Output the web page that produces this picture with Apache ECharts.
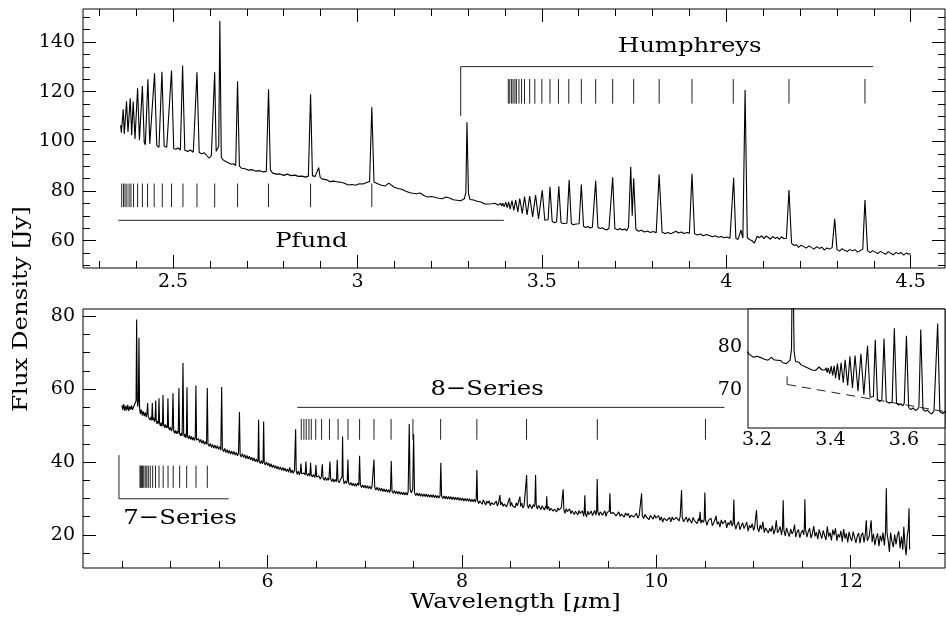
<!DOCTYPE html>
<html><head><meta charset="utf-8">
<script src="https://cdn.jsdelivr.net/npm/echarts@6/dist/echarts.min.js"></script>
<style>html,body{margin:0;padding:0;background:#fff}#c{width:946px;height:620px}</style>
</head><body><div id="c"></div>
<script>
// ---------------- DATA ----------------
// Upper panel spectrum (2.36 - 4.50 micron): [wavelength, flux Jy]
const topSpectrum = [
[2.358,106.5],[2.360,103.5],[2.362,104.0],[2.365,112.9],[2.368,103.0],[2.370,102.6],[2.374,116.1],[2.378,103.8],[2.380,103.5],[2.384,117.3],[2.388,102.5],[2.389,102.2],[2.392,116.0],[2.397,101.0],[2.399,100.6],[2.404,121.4],[2.409,100.5],[2.411,99.9],[2.417,122.3],[2.422,99.5],[2.425,98.6],[2.432,125.0],[2.437,99.0],[2.442,98.2],[2.450,127.4],[2.456,98.4],[2.462,97.6],[2.470,128.0],[2.476,98.0],[2.483,97.6],[2.488,98.3],[2.496,128.5],[2.502,97.0],[2.508,96.8],[2.514,97.4],[2.520,96.5],[2.526,130.5],[2.532,96.4],[2.540,95.9],[2.547,96.5],[2.555,95.6],[2.560,95.9],[2.565,127.8],[2.571,95.5],[2.578,95.0],[2.585,95.4],[2.592,94.2],[2.598,93.2],[2.604,94.3],[2.608,93.8],[2.613,127.8],[2.617,96.0],[2.621,96.5],[2.624,98.0],[2.627,148.5],[2.631,93.5],[2.636,92.5],[2.642,92.0],[2.650,91.4],[2.658,90.8],[2.664,91.0],[2.670,90.3],[2.675,124.2],[2.680,90.0],[2.686,89.2],[2.695,89.0],[2.705,88.4],[2.715,88.6],[2.725,88.0],[2.735,88.2],[2.745,87.7],[2.753,87.9],[2.759,121.0],[2.764,88.5],[2.770,87.2],[2.780,86.8],[2.790,86.9],[2.800,86.3],[2.810,86.8],[2.820,86.2],[2.830,86.4],[2.840,85.9],[2.850,86.0],[2.860,85.6],[2.867,86.0],[2.873,119.0],[2.878,86.2],[2.885,85.8],[2.890,86.0],[2.895,89.4],[2.899,85.5],[2.905,84.8],[2.915,84.6],[2.925,83.8],[2.935,84.0],[2.945,83.7],[2.955,83.5],[2.965,83.1],[2.975,82.4],[2.985,82.6],[2.995,82.3],[3.005,82.9],[3.015,82.8],[3.025,83.4],[3.033,83.8],[3.039,113.7],[3.045,83.6],[3.055,82.9],[3.065,82.3],[3.075,82.0],[3.085,83.2],[3.090,83.0],[3.100,81.5],[3.110,81.0],[3.120,80.7],[3.130,80.0],[3.140,79.4],[3.150,79.1],[3.160,78.9],[3.170,79.2],[3.180,78.2],[3.190,77.6],[3.200,77.8],[3.205,78.1],[3.210,77.5],[3.215,77.8],[3.220,77.1],[3.225,77.4],[3.230,76.9],[3.235,77.3],[3.240,77.6],[3.245,77.0],[3.250,77.2],[3.255,76.9],[3.260,76.5],[3.265,76.8],[3.270,76.3],[3.275,76.6],[3.280,76.1],[3.285,76.5],[3.290,76.9],[3.294,79.5],[3.297,107.7],[3.301,79.0],[3.305,76.6],[3.310,76.2],[3.315,76.4],[3.320,75.8],[3.325,75.9],[3.330,75.4],[3.335,75.6],[3.340,75.0],[3.345,74.8],[3.350,74.6],[3.355,74.8],[3.360,74.5],[3.365,74.9],[3.369,75.3],[3.373,75.1],[3.377,74.6],[3.382,74.3],[3.385,74.6],[3.388,75.1],[3.391,74.0],[3.394,75.1],[3.398,73.7],[3.402,75.5],[3.406,73.3],[3.410,75.6],[3.414,72.7],[3.419,76.1],[3.424,72.2],[3.429,76.3],[3.435,71.6],[3.440,77.0],[3.447,71.0],[3.453,77.8],[3.460,70.4],[3.467,78.0],[3.475,69.6],[3.483,78.4],[3.491,68.8],[3.494,68.9],[3.501,80.3],[3.508,68.2],[3.513,67.9],[3.517,68.4],[3.522,81.7],[3.528,67.8],[3.534,67.2],[3.540,67.6],[3.546,81.9],[3.552,67.2],[3.558,66.9],[3.563,67.3],[3.568,67.0],[3.574,84.4],[3.580,66.8],[3.586,66.4],[3.592,66.7],[3.597,66.2],[3.601,66.8],[3.607,82.6],[3.613,65.8],[3.619,65.3],[3.625,65.7],[3.631,65.1],[3.637,65.4],[3.641,65.9],[3.646,84.1],[3.652,65.4],[3.658,64.9],[3.664,65.2],[3.670,64.6],[3.676,64.3],[3.682,65.0],[3.686,65.4],[3.692,85.5],[3.698,64.8],[3.706,64.4],[3.712,64.9],[3.718,64.3],[3.724,64.7],[3.730,64.1],[3.735,65.5],[3.741,89.8],[3.745,70.0],[3.749,85.1],[3.755,64.6],[3.762,63.8],[3.770,64.2],[3.778,63.5],[3.786,63.9],[3.794,63.3],[3.802,63.7],[3.810,63.2],[3.818,86.6],[3.826,63.4],[3.834,62.9],[3.842,63.3],[3.850,62.8],[3.858,63.4],[3.864,63.8],[3.870,63.1],[3.878,63.5],[3.886,62.9],[3.894,63.3],[3.900,63.0],[3.907,86.9],[3.914,62.8],[3.922,62.3],[3.930,62.7],[3.938,62.0],[3.946,62.5],[3.954,62.1],[3.962,61.6],[3.970,62.0],[3.978,61.4],[3.986,61.7],[3.994,61.2],[4.002,61.5],[4.010,61.0],[4.015,61.4],[4.020,85.3],[4.026,61.0],[4.032,60.5],[4.040,64.3],[4.045,61.0],[4.051,120.7],[4.057,61.2],[4.063,60.5],[4.070,60.0],[4.076,59.0],[4.080,58.3],[4.084,61.8],[4.090,61.2],[4.096,62.0],[4.102,60.8],[4.108,61.9],[4.114,61.3],[4.120,60.6],[4.126,61.7],[4.132,60.9],[4.138,61.4],[4.144,60.5],[4.150,61.6],[4.156,60.9],[4.163,61.0],[4.170,80.4],[4.177,59.0],[4.183,58.1],[4.190,58.4],[4.196,57.3],[4.203,58.2],[4.210,57.6],[4.217,57.0],[4.224,57.9],[4.231,57.2],[4.238,56.6],[4.245,57.6],[4.252,56.9],[4.259,57.4],[4.266,56.2],[4.273,57.1],[4.280,56.6],[4.287,57.2],[4.294,68.8],[4.300,56.5],[4.307,55.8],[4.314,56.8],[4.321,56.1],[4.328,55.6],[4.335,56.5],[4.342,55.9],[4.349,56.4],[4.356,55.4],[4.363,56.0],[4.370,56.5],[4.376,76.4],[4.383,56.0],[4.390,55.2],[4.397,56.0],[4.404,55.4],[4.411,54.8],[4.418,55.7],[4.425,55.1],[4.432,54.5],[4.439,55.6],[4.446,54.9],[4.453,54.3],[4.460,55.3],[4.467,54.7],[4.474,55.2],[4.481,54.2],[4.488,55.0],[4.495,54.5],[4.500,54.8]
];

// Lower panel spectrum (4.5 - 12.6 micron)
const bottomSpectrum = [
[4.500,55.6],[4.510,54.3],[4.520,55.9],[4.530,54.0],[4.540,55.4],[4.550,54.2],[4.560,55.7],[4.570,54.0],[4.580,55.3],[4.590,54.4],[4.600,55.5],[4.610,54.3],[4.620,55.1],[4.630,54.6],[4.640,55.6],[4.646,56.8],[4.652,79.1],[4.658,57.0],[4.664,55.2],[4.670,57.0],[4.676,74.1],[4.682,55.0],[4.690,53.2],[4.700,54.4],[4.710,52.8],[4.720,53.9],[4.730,52.6],[4.740,53.6],[4.750,52.3],[4.758,53.3],[4.765,56.2],[4.771,52.4],[4.780,52.9],[4.790,51.5],[4.800,52.4],[4.807,51.4],[4.813,56.2],[4.819,51.5],[4.828,52.2],[4.836,51.0],[4.842,51.7],[4.848,56.9],[4.854,51.2],[4.862,50.5],[4.870,51.3],[4.876,50.6],[4.882,57.5],[4.888,50.7],[4.896,49.9],[4.905,50.8],[4.912,49.8],[4.918,50.5],[4.923,58.4],[4.929,50.3],[4.938,49.5],[4.947,50.3],[4.955,49.3],[4.962,50.0],[4.968,49.4],[4.974,57.5],[4.980,49.5],[4.990,48.8],[5.000,49.6],[5.010,48.5],[5.018,49.1],[5.026,58.9],[5.033,48.6],[5.042,47.9],[5.052,48.7],[5.062,47.7],[5.072,48.5],[5.080,47.8],[5.087,60.3],[5.094,47.8],[5.104,47.2],[5.112,48.0],[5.120,47.2],[5.129,67.2],[5.136,47.8],[5.143,46.9],[5.150,47.7],[5.158,46.6],[5.164,47.2],[5.170,60.5],[5.176,47.0],[5.186,46.4],[5.196,47.3],[5.206,46.2],[5.216,47.0],[5.226,46.0],[5.236,46.8],[5.246,45.9],[5.255,46.6],[5.262,61.0],[5.269,46.0],[5.280,45.5],[5.290,46.4],[5.300,45.4],[5.312,46.2],[5.324,45.1],[5.336,45.9],[5.348,44.9],[5.360,45.6],[5.371,44.8],[5.379,60.3],[5.386,45.0],[5.398,44.3],[5.410,45.1],[5.422,44.0],[5.434,44.8],[5.446,43.8],[5.458,44.6],[5.470,43.7],[5.482,44.5],[5.494,43.5],[5.506,44.2],[5.518,43.3],[5.527,60.6],[5.534,43.6],[5.546,42.9],[5.558,43.7],[5.570,42.6],[5.582,43.4],[5.594,42.4],[5.606,43.2],[5.618,42.2],[5.630,43.0],[5.642,42.1],[5.654,42.9],[5.666,41.9],[5.678,42.6],[5.690,41.7],[5.700,42.4],[5.710,53.7],[5.717,42.0],[5.728,41.4],[5.740,42.3],[5.752,41.2],[5.764,42.0],[5.776,40.9],[5.788,41.8],[5.800,40.8],[5.812,41.6],[5.824,40.6],[5.836,41.3],[5.848,40.3],[5.860,41.1],[5.872,40.1],[5.884,40.8],[5.896,39.9],[5.901,40.5],[5.907,51.6],[5.913,40.2],[5.924,39.6],[5.936,40.4],[5.946,39.5],[5.953,40.2],[5.959,51.1],[5.965,39.8],[5.976,39.2],[5.988,40.0],[6.000,39.0],[6.012,39.7],[6.024,38.7],[6.036,39.5],[6.048,38.5],[6.060,39.2],[6.072,38.3],[6.084,39.0],[6.096,38.1],[6.108,38.8],[6.120,37.9],[6.132,38.6],[6.144,37.7],[6.156,38.5],[6.168,37.6],[6.180,38.3],[6.192,37.4],[6.204,38.1],[6.216,37.2],[6.228,38.5],[6.240,37.0],[6.252,37.8],[6.264,36.9],[6.276,37.7],[6.282,38.2],[6.288,49.0],[6.294,37.6],[6.304,36.6],[6.316,37.5],[6.326,36.5],[6.336,37.2],[6.343,39.6],[6.350,36.8],[6.362,36.3],[6.374,37.0],[6.386,36.4],[6.394,40.1],[6.401,36.8],[6.412,36.2],[6.424,36.9],[6.434,36.1],[6.442,39.8],[6.449,36.5],[6.460,35.9],[6.472,36.6],[6.484,35.7],[6.490,36.3],[6.497,39.2],[6.504,35.9],[6.516,35.4],[6.528,36.2],[6.540,35.3],[6.552,35.9],[6.562,39.4],[6.570,35.6],[6.582,35.0],[6.594,35.8],[6.606,34.9],[6.618,35.6],[6.630,35.0],[6.641,40.1],[6.649,35.3],[6.660,34.6],[6.672,35.4],[6.684,34.5],[6.696,35.2],[6.708,34.6],[6.716,40.6],[6.724,34.9],[6.736,34.3],[6.748,35.1],[6.760,34.6],[6.766,36.0],[6.771,47.0],[6.777,35.5],[6.788,34.0],[6.800,34.8],[6.812,34.1],[6.819,34.9],[6.826,40.7],[6.833,34.3],[6.845,33.7],[6.857,34.4],[6.869,33.5],[6.881,34.2],[6.893,33.4],[6.905,34.1],[6.914,33.3],[6.926,34.2],[6.938,33.6],[6.946,41.7],[6.954,33.8],[6.966,33.0],[6.978,33.7],[6.990,32.9],[7.002,33.6],[7.014,32.8],[7.026,33.5],[7.038,32.7],[7.050,33.4],[7.062,32.6],[7.074,33.3],[7.084,32.8],[7.094,40.7],[7.102,33.0],[7.114,32.3],[7.126,33.1],[7.138,32.2],[7.150,32.9],[7.162,32.0],[7.174,32.8],[7.186,31.9],[7.198,32.6],[7.210,31.8],[7.222,32.5],[7.234,31.7],[7.246,32.4],[7.256,31.6],[7.264,32.4],[7.272,40.3],[7.280,32.0],[7.292,31.4],[7.304,32.2],[7.316,31.3],[7.328,32.0],[7.340,31.2],[7.352,31.9],[7.364,31.1],[7.376,31.8],[7.388,31.0],[7.400,31.7],[7.412,30.9],[7.424,31.6],[7.436,30.9],[7.446,31.9],[7.457,50.4],[7.466,32.5],[7.480,31.5],[7.493,32.6],[7.502,47.7],[7.511,31.6],[7.524,30.8],[7.536,31.5],[7.548,30.7],[7.560,31.4],[7.572,30.6],[7.584,31.3],[7.596,30.5],[7.608,31.2],[7.620,30.5],[7.632,31.2],[7.644,30.4],[7.656,31.1],[7.668,30.3],[7.680,31.0],[7.692,30.3],[7.704,31.0],[7.716,30.2],[7.728,30.9],[7.740,30.1],[7.752,30.8],[7.764,30.1],[7.774,30.7],[7.782,39.8],[7.790,30.7],[7.802,30.0],[7.814,30.7],[7.826,29.9],[7.838,30.6],[7.850,29.8],[7.862,30.5],[7.874,29.8],[7.886,30.5],[7.898,29.7],[7.910,30.4],[7.922,29.6],[7.934,30.3],[7.946,29.6],[7.958,30.3],[7.970,29.5],[7.982,30.2],[7.994,29.4],[8.006,30.1],[8.018,29.3],[8.030,30.0],[8.042,29.3],[8.054,30.0],[8.066,29.2],[8.078,29.9],[8.090,29.1],[8.102,29.8],[8.114,29.1],[8.126,29.8],[8.138,29.0],[8.146,29.8],[8.153,37.8],
[8.160,29.5],[8.172,28.6],[8.184,29.3],[8.196,29.1],[8.208,28.4],[8.220,29.6],[8.232,28.9],[8.244,28.2],[8.256,29.3],[8.268,28.7],[8.280,29.4],[8.292,28.0],[8.304,28.8],[8.316,29.2],[8.328,28.3],[8.340,28.6],[8.352,29.3],[8.364,27.9],[8.376,28.8],[8.383,28.4],[8.390,30.9],[8.397,28.2],[8.410,29.0],[8.422,27.8],[8.434,28.5],[8.446,28.7],[8.458,27.7],[8.470,28.6],[8.482,28.1],[8.490,30.2],[8.498,27.8],[8.510,28.9],[8.522,27.9],[8.534,28.3],[8.546,27.5],[8.558,28.8],[8.570,28.0],[8.582,27.6],[8.589,28.3],[8.596,30.5],[8.603,27.8],[8.615,28.7],[8.627,27.4],[8.639,28.0],[8.651,28.5],[8.658,28.2],[8.665,36.4],[8.672,28.3],[8.684,27.3],[8.696,28.4],[8.708,27.8],[8.720,27.2],[8.732,28.3],[8.744,27.7],[8.750,28.6],[8.757,36.4],[8.764,28.0],[8.776,27.1],[8.788,28.1],[8.800,27.6],[8.812,26.9],[8.824,28.0],[8.836,27.5],[8.848,26.8],[8.860,27.9],[8.866,27.3],[8.872,30.6],[8.878,27.0],[8.890,27.8],[8.902,26.6],[8.914,27.3],[8.926,27.7],[8.938,26.5],[8.950,27.1],[8.962,27.6],[8.974,26.3],[8.986,27.4],[8.998,26.8],[9.010,26.4],[9.022,27.5],[9.034,27.0],[9.041,32.5],[9.048,26.9],[9.060,25.9],[9.072,27.2],[9.084,26.4],[9.096,26.1],[9.108,27.1],[9.120,25.8],[9.132,26.6],[9.144,26.9],[9.156,25.6],[9.168,26.5],[9.180,26.8],[9.192,25.5],[9.204,26.7],[9.216,25.9],[9.228,25.4],[9.240,26.6],[9.252,25.1],[9.258,26.3],[9.264,30.9],[9.270,25.9],[9.282,24.9],[9.294,26.5],[9.306,25.6],[9.318,25.2],[9.330,26.5],[9.342,25.3],[9.354,26.0],[9.366,26.7],[9.378,25.4],[9.385,26.6],[9.391,35.3],[9.398,26.4],[9.410,25.3],[9.422,26.3],[9.434,26.8],[9.446,25.4],[9.458,26.0],[9.470,26.6],[9.482,25.1],[9.494,26.2],[9.506,25.7],[9.515,26.4],[9.522,31.4],
[9.529,25.9],[9.543,25.4],[9.557,26.1],[9.571,26.0],[9.585,25.2],[9.599,25.6],[9.613,26.3],[9.627,25.1],[9.641,25.7],[9.655,25.5],[9.669,24.9],[9.683,26.0],[9.697,25.3],[9.711,25.9],[9.725,24.7],[9.739,25.4],[9.753,25.8],[9.767,24.9],[9.781,25.0],[9.795,25.9],[9.809,24.6],[9.823,25.3],[9.835,25.6],[9.841,25.0],[9.848,31.4],[9.855,25.3],[9.869,24.5],[9.883,25.6],[9.897,24.9],[9.911,25.1],[9.925,24.2],[9.939,25.3],[9.953,25.0],[9.967,24.3],[9.981,25.5],[9.995,24.6],[10.009,24.4],[10.023,25.3],[10.037,24.0],[10.051,24.9],[10.065,23.5],[10.079,24.6],[10.093,25.1],[10.107,23.9],[10.121,24.3],[10.135,24.8],[10.149,23.6],[10.163,24.9],[10.177,24.1],[10.191,23.7],[10.205,24.8],[10.219,24.5],[10.233,23.8],[10.245,25.0],[10.252,25.3],[10.259,32.3],[10.266,24.9],[10.280,23.6],[10.294,24.3],[10.308,24.9],[10.322,23.5],[10.336,24.6],[10.350,24.1],[10.364,23.2],[10.378,24.8],[10.392,23.9],[10.406,24.2],[10.420,23.1],[10.434,24.5],[10.442,23.8],[10.450,26.3],[10.458,23.2],[10.470,24.1],[10.484,23.4],[10.492,24.2],[10.499,31.6],[10.506,24.1],[10.520,22.6],[10.534,23.9],[10.548,23.5],[10.562,24.6],[10.576,22.5],[10.590,23.3],[10.604,24.2],[10.614,25.2],[10.626,22.9],[10.640,23.6],[10.654,22.1],[10.668,24.1],[10.682,23.0],[10.696,22.6],[10.710,24.0],[10.724,21.9],[10.738,23.4],[10.752,22.7],[10.766,24.0],[10.780,22.4],[10.790,23.2],[10.797,29.7],[10.804,23.1],[10.818,21.6],[10.832,22.9],[10.846,23.6],[10.860,21.4],[10.874,22.5],[10.888,23.3],[10.902,21.7],[10.916,22.2],[10.930,23.5],[10.944,21.0],[10.958,22.6],[10.972,21.9],[10.986,23.1],[11.000,21.2],[11.012,22.3],[11.022,22.8],[11.030,26.8],[11.040,22.0],[11.054,20.8],[11.068,22.7],[11.082,21.5],[11.096,23.6],[11.110,20.6],[11.124,21.9],[11.138,22.4],[11.152,20.5],[11.166,21.8],[11.180,20.9],[11.194,22.5],[11.208,20.2],[11.222,21.4],[11.234,24.0],[11.246,20.6],[11.260,21.2],[11.274,22.3],[11.288,20.0],[11.298,21.8],[11.305,29.5],[11.312,21.4],[11.326,19.7],[11.340,21.9],[11.354,20.6],[11.368,19.5],[11.382,21.6],[11.396,20.3],[11.410,21.0],[11.422,22.8],[11.434,19.4],[11.448,20.8],[11.462,21.5],[11.476,19.2],[11.490,20.6],[11.504,21.3],[11.516,20.0],[11.522,21.4],[11.528,29.8],[11.535,21.6],[11.549,19.4],[11.563,20.9],[11.577,21.8],[11.591,19.1],[11.605,20.3],[11.619,22.4],[11.633,19.6],[11.647,20.7],[11.661,18.8],[11.675,21.5],[11.689,20.1],[11.703,19.0],[11.717,21.2],[11.731,19.8],[11.745,18.6],[11.759,22.3],[11.773,19.5],[11.787,20.6],[11.801,18.5],[11.815,21.4],[11.829,19.9],[11.843,21.8],[11.857,18.4],[11.871,20.2],[11.885,19.3],[11.899,21.1],[11.913,18.1],[11.927,21.6],[11.941,19.0],[11.955,20.4],[11.969,17.9],[11.983,20.8],[11.997,19.2],[12.011,18.3],[12.025,20.9],[12.039,21.4],[12.053,17.8],[12.067,19.6],[12.081,20.5],[12.095,17.7],[12.109,19.9],[12.123,20.6],[12.137,17.9],[12.150,20.2],[12.160,24.0],[12.170,18.4],[12.190,19.6],[12.210,24.0],[12.220,18.0],[12.234,20.3],[12.248,17.2],[12.262,19.1],[12.276,20.4],[12.290,16.9],[12.304,19.8],[12.318,18.2],[12.332,20.6],[12.346,17.1],[12.358,20.9],[12.366,32.8],[12.374,20.4],[12.388,17.9],[12.398,15.3],[12.410,20.6],[12.424,18.2],[12.438,16.6],[12.452,20.1],[12.466,17.4],[12.480,19.8],[12.494,21.0],[12.508,16.3],[12.522,19.5],[12.536,15.9],[12.546,22.2],[12.558,17.2],[12.570,14.4],[12.582,19.9],[12.592,21.5],[12.600,27.3],[12.606,16.0]
];

// Line-series identification marks (wavelengths, micron)
const pfundMarks = [2.361,2.366,2.370,2.375,2.381,2.386,2.393,2.404,2.417,2.431,2.449,2.471,2.496,2.527,2.565,2.613,2.675,2.759,2.873,3.039];
const humphreysMarks = [3.409,3.413,3.418,3.422,3.427,3.431,3.438,3.445,3.453,3.467,3.481,3.500,3.522,3.545,3.573,3.607,3.646,3.692,3.749,3.818,3.907,4.019,4.170,4.376];
const series7Marks = [4.686,4.694,4.703,4.713,4.725,4.740,4.756,4.772,4.792,4.817,4.846,4.882,4.925,4.975,5.028,5.095,5.167,5.263,5.379];
const series8Marks = [6.346,6.373,6.397,6.425,6.449,6.495,6.555,6.636,6.725,6.827,6.946,7.094,7.270,7.495,7.780,8.153,8.664,9.392,10.505];

// mark extents [low, high] in flux units
const pfundMarkRange = [73.5, 83.0];
const humphreysMarkRange = [115.2, 125.1];
const series7MarkRange = [32.9, 39.0];
const series8MarkRange = [46.1, 51.8];

// Brackets
const pfundBracket = [[2.352, 68.2], [3.397, 68.2]];
const humphreysBracket = [[3.280, 110.2], [3.280, 130.1], [4.398, 130.1]];
const series7Bracket = [[4.470, 41.9], [4.470, 29.9], [5.599, 29.9]];
const series8Bracket = [[6.305, 55.0], [10.70, 55.0]];

// Inset continuum guide (dashed)
const insetGuideTick = [[3.282, 73.1], [3.282, 71.2]];
const insetGuide = [[3.282, 71.2], [3.707, 64.9]];

// Series labels
const labelText = ['Pfund', 'Humphreys', '8\u2212Series', '7\u2212Series'];
const labelX = [2.875, 3.901, 8.258, 5.098];
const labelY = [59.8, 138.0, 60.0, 24.6];
const labelPanel = [0, 0, 1, 1];

// Tick values
const topXMajor = [2.5, 3, 3.5, 4, 4.5];
const topXMinor = [2.3, 2.4, 2.6, 2.7, 2.8, 2.9, 3.1, 3.2, 3.3, 3.4, 3.6, 3.7, 3.8, 3.9, 4.1, 4.2, 4.3, 4.4];
const topYMajor = [60, 80, 100, 120, 140];
const topYMinor = [50, 55, 65, 70, 75, 85, 90, 95, 105, 110, 115, 125, 130, 135, 145, 150];
const botXMajor = [6, 8, 10, 12];
const botXMinor = [4.5, 5, 5.5, 6.5, 7, 7.5, 8.5, 9, 9.5, 10.5, 11, 11.5, 12.5];
const botYMajor = [20, 40, 60, 80];
const botYMinor = [15, 25, 30, 35, 45, 50, 55, 65, 70, 75];
const insXMajor = [3.2, 3.4, 3.6];
const insXMinor = [3.3, 3.5, 3.7];
const insYMajor = [70, 80];
const insYMinor = [65, 75, 85];

// ---------------- CHART ----------------
const FONT = '"DejaVu Serif", serif';
const chart = echarts.init(document.getElementById('c'), null, {renderer: 'canvas'});

function ax(gridIndex, min, max, ticks, len, position, showLabel, margin) {
  return {
    type: 'value', gridIndex: gridIndex, min: min, max: max, position: position,
    axisLine: {show: false}, splitLine: {show: false},
    axisTick: {show: true, inside: true, length: len, customValues: ticks, lineStyle: {color: '#000', width: 1}},
    axisLabel: {show: showLabel, customValues: ticks, margin: margin, color: '#000',
      fontFamily: FONT, fontSize: 19, formatter: function (v) { return String(v); }}
  };
}

const T = [2.256, 4.593, 49, 153.3];
const B = [4.1, 12.97, 10.9, 82.0];
const I = [3.1755, 3.712, 61.0, 88.9];

const xAxes = [
  ax(0, T[0], T[1], topXMajor, 13, 'bottom', true, 5),
  ax(0, T[0], T[1], topXMinor, 7, 'bottom', false, 5),
  ax(0, T[0], T[1], topXMajor, 13, 'top', false, 5),
  ax(0, T[0], T[1], topXMinor, 7, 'top', false, 5),
  ax(1, B[0], B[1], botXMajor, 13, 'bottom', true, 5),
  ax(1, B[0], B[1], botXMinor, 7, 'bottom', false, 5),
  ax(2, I[0], I[1], insXMajor, 13, 'bottom', true, 3),
  ax(2, I[0], I[1], insXMinor, 7, 'bottom', false, 3)
];
const yAxes = [
  ax(0, T[2], T[3], topYMajor, 13, 'left', true, 8),
  ax(0, T[2], T[3], topYMinor, 7, 'left', false, 8),
  ax(0, T[2], T[3], topYMajor, 13, 'right', false, 8),
  ax(0, T[2], T[3], topYMinor, 7, 'right', false, 8),
  ax(1, B[2], B[3], botYMajor, 13, 'left', true, 8),
  ax(1, B[2], B[3], botYMinor, 7, 'left', false, 8),
  ax(1, B[2], B[3], botYMajor, 13, 'right', false, 8),
  ax(1, B[2], B[3], botYMinor, 7, 'right', false, 8),
  ax(2, I[2], I[3], insYMajor, 13, 'left', true, 6),
  ax(2, I[2], I[3], insYMinor, 7, 'left', false, 6)
];

function markSegs(xs, range) {
  return xs.map(function (x) { return {coords: [[x, range[0]], [x, range[1]]]}; });
}
function linesSeries(xi, yi, data, extra) {
  const s = {type: 'lines', coordinateSystem: 'cartesian2d', xAxisIndex: xi, yAxisIndex: yi,
    polyline: true, data: data, silent: true, z: 4,
    lineStyle: {color: '#222', width: 1, opacity: 1}};
  if (extra) Object.assign(s.lineStyle, extra);
  return s;
}
function specSeries(xi, yi, data) {
  return {type: 'line', xAxisIndex: xi, yAxisIndex: yi, data: data, symbol: 'none', showSymbol: false,
    sampling: null, silent: true, z: 3, clip: true, lineStyle: {color: '#000', width: 1.1}};
}

const option = {
  animation: false,
  backgroundColor: '#fff',
  grid: [
    {left: 83, top: 9, width: 862, height: 259, show: true, borderColor: '#000', borderWidth: 1, backgroundColor: '#fff'},
    {left: 83, top: 309, width: 862, height: 259, show: true, borderColor: '#000', borderWidth: 1, backgroundColor: '#fff'},
    {left: 748, top: 309, width: 197, height: 119, show: true, borderColor: '#000', borderWidth: 1, backgroundColor: '#fff', z: 5}
  ],
  xAxis: xAxes,
  yAxis: yAxes,
  series: [
    specSeries(0, 0, topSpectrum),
    specSeries(4, 4, bottomSpectrum),
    Object.assign(specSeries(6, 8, topSpectrum), {z: 6}),
    linesSeries(0, 0, markSegs(pfundMarks, pfundMarkRange)),
    linesSeries(0, 0, markSegs(humphreysMarks, humphreysMarkRange)),
    linesSeries(0, 0, [{coords: pfundBracket}, {coords: humphreysBracket}]),
    linesSeries(4, 4, markSegs(series7Marks, series7MarkRange)),
    linesSeries(4, 4, markSegs(series8Marks, series8MarkRange)),
    linesSeries(4, 4, [{coords: series7Bracket}, {coords: series8Bracket}]),
    Object.assign(linesSeries(6, 8, [{coords: insetGuideTick}]), {z: 6}),
    Object.assign(linesSeries(6, 8, [{coords: insetGuide}], {type: [9, 6]}), {z: 6})
  ]
};
chart.setOption(option);

// Text annotations placed through the axes
const SX = 1.16;
const graphics = [];
for (let i = 0; i < labelText.length; i++) {
  const idx = labelPanel[i] === 0 ? 0 : 4;
  const p = chart.convertToPixel({xAxisIndex: idx, yAxisIndex: idx}, [labelX[i], labelY[i]]);
  graphics.push({type: 'text', x: p[0], y: p[1], scaleX: SX, z: 10, silent: true,
    style: {text: labelText[i], font: '21px ' + FONT, fill: '#000',
      align: 'center', verticalAlign: 'middle', textAlign: 'center', textVerticalAlign: 'middle'}});
}
graphics.push({type: 'text', x: 22, y: 309, rotation: Math.PI / 2, scaleX: SX, z: 10, silent: true,
  style: {text: 'Flux Density [Jy]', font: '21px ' + FONT, fill: '#000',
    align: 'center', verticalAlign: 'middle', textAlign: 'center', textVerticalAlign: 'middle'}});
graphics.push({type: 'text', x: 515.5, y: 603, scaleX: SX, z: 10, silent: true,
  style: {text: '{a|Wavelength [}{b|\u03bc}{a|m]}', font: '21px ' + FONT, fill: '#000',
    align: 'center', verticalAlign: 'middle', textAlign: 'center', textVerticalAlign: 'middle',
    rich: {a: {font: '21px ' + FONT, fill: '#000', color: '#000'},
           b: {font: 'italic 21px ' + FONT, fill: '#000', color: '#000'}}}});
chart.setOption({graphic: {elements: graphics}});
</script></body></html>
